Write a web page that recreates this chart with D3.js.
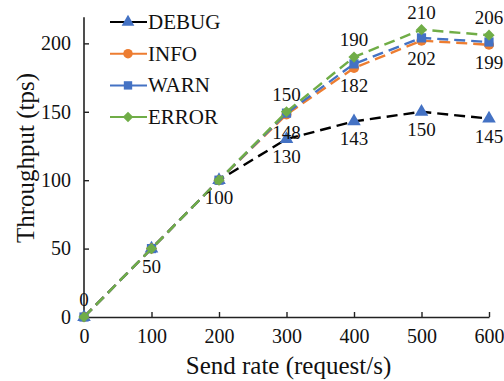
<!DOCTYPE html>
<html>
<head>
<meta charset="utf-8">
<script src="https://cdn.jsdelivr.net/npm/d3@7"></script>
</head>
<body style="margin:0;background:#fff">
<div id="chart"></div>
<script>
// data
const sendRates = [0, 100, 200, 300, 400, 500, 600];
const debugTps = [0, 50, 100, 130, 143, 150, 145];
const infoTps = [0, 50, 100, 148, 182, 202, 199];
const warnTps = [0, 50, 100, 149, 185, 204, 201];
const errorTps = [0, 50, 100, 150, 190, 210, 206];
const yTicks = [0, 50, 100, 150, 200];
const xTicks = [0, 100, 200, 300, 400, 500, 600];

const series = [
  { name: 'DEBUG', values: debugTps, line: '#000', fill: '#4472C4', symbol: d3.symbolTriangle },
  { name: 'INFO', values: infoTps, line: '#ED7D31', fill: '#ED7D31', symbol: d3.symbolCircle },
  { name: 'WARN', values: warnTps, line: '#4472C4', fill: '#4472C4', symbol: d3.symbolSquare },
  { name: 'ERROR', values: errorTps, line: '#70AD47', fill: '#70AD47', symbol: d3.symbolDiamond2 }
];

// which points get a value label, and on which side
const labels = [
  { s: 3, i: 0, pos: 'above' },
  { s: 0, i: 1, pos: 'below' },
  { s: 0, i: 2, pos: 'below' },
  { s: 0, i: 3, pos: 'below' }, { s: 1, i: 3, pos: 'below' }, { s: 3, i: 3, pos: 'above' },
  { s: 0, i: 4, pos: 'below' }, { s: 1, i: 4, pos: 'below' }, { s: 3, i: 4, pos: 'above' },
  { s: 0, i: 5, pos: 'below' }, { s: 1, i: 5, pos: 'below' }, { s: 3, i: 5, pos: 'above' },
  { s: 0, i: 6, pos: 'below' }, { s: 1, i: 6, pos: 'below' }, { s: 3, i: 6, pos: 'above' }
];

const FONT = '"Liberation Serif"';
const width = 504, height = 381;
const svg = d3.select('#chart').append('svg')
  .attr('width', width).attr('height', height);

const x = d3.scaleLinear().domain([0, 600]).range([84, 489]);
const y = d3.scaleLinear().domain([0, 220]).range([317, 16]);

// axes, ticks pointing inward
const xAxis = svg.append('g').attr('transform', `translate(0,${y(0)})`)
  .call(d3.axisBottom(x).tickValues(xTicks).tickSizeInner(-5).tickSizeOuter(0).tickPadding(12));
const yAxis = svg.append('g').attr('transform', `translate(${x(0)},0)`)
  .call(d3.axisLeft(y).tickValues(yTicks).tickSizeInner(-5).tickSizeOuter(0).tickPadding(13));
[xAxis, yAxis].forEach(a => {
  a.select('.domain').attr('stroke', '#222').attr('stroke-width', 1.6);
  a.selectAll('.tick line').attr('stroke', '#222').attr('stroke-width', 1.4);
  a.selectAll('.tick text')
    .style('font-family', FONT).style('font-size', '20px').attr('fill', '#111');
});
yAxis.select('.domain').attr('d', `M0,${y(0)}V${y(219)}`);

svg.append('text')
  .attr('x', x(300) + 2).attr('y', 374)
  .attr('text-anchor', 'middle')
  .style('font-family', FONT).style('font-size', '25px').attr('fill', '#111')
  .text('Send rate (request/s)');
svg.append('text')
  .attr('transform', `translate(34,158) rotate(-90)`)
  .attr('text-anchor', 'middle')
  .style('font-family', FONT).style('font-size', '25px').attr('fill', '#111')
  .text('Throughput (tps)');

const line = d3.line().x((d, i) => x(sendRates[i])).y(d => y(d));

series.forEach(s => {
  svg.append('path')
    .datum(s.values)
    .attr('d', line)
    .attr('fill', 'none')
    .attr('stroke', s.line)
    .attr('stroke-width', 2.4)
    .attr('stroke-dasharray', '11,6');
  svg.append('g').selectAll('path')
    .data(s.values).enter()
    .append('path')
    .attr('transform', (d, i) => `translate(${x(sendRates[i])},${y(d)})`)
    .attr('d', d3.symbol().type(s.symbol).size(s.symbol === d3.symbolSquare ? 85 : 80))
    .attr('fill', s.fill);
});

svg.append('g').selectAll('text')
  .data(labels).enter()
  .append('text')
  .attr('x', d => x(sendRates[d.i]))
  .attr('y', d => y(series[d.s].values[d.i]) + (d.pos === 'above' ? -11 : 24))
  .attr('text-anchor', 'middle')
  .style('font-family', FONT).style('font-size', '19px').attr('fill', '#111')
  .text(d => series[d.s].values[d.i]);

// legend
const legend = svg.append('g').selectAll('g')
  .data(series).enter()
  .append('g')
  .attr('transform', (d, i) => `translate(110,${22 + i * 31.7})`);
legend.append('line')
  .attr('x1', 0).attr('x2', 37)
  .attr('stroke', d => d.line).attr('stroke-width', 2);
legend.append('path')
  .attr('transform', 'translate(18,0)')
  .attr('d', d => d3.symbol().type(d.symbol).size(70)())
  .attr('fill', d => d.fill);
legend.append('text')
  .attr('x', 38).attr('y', 7)
  .style('font-family', FONT).style('font-size', '21px').attr('fill', '#111')
  .text(d => d.name);
</script>
</body>
</html>
